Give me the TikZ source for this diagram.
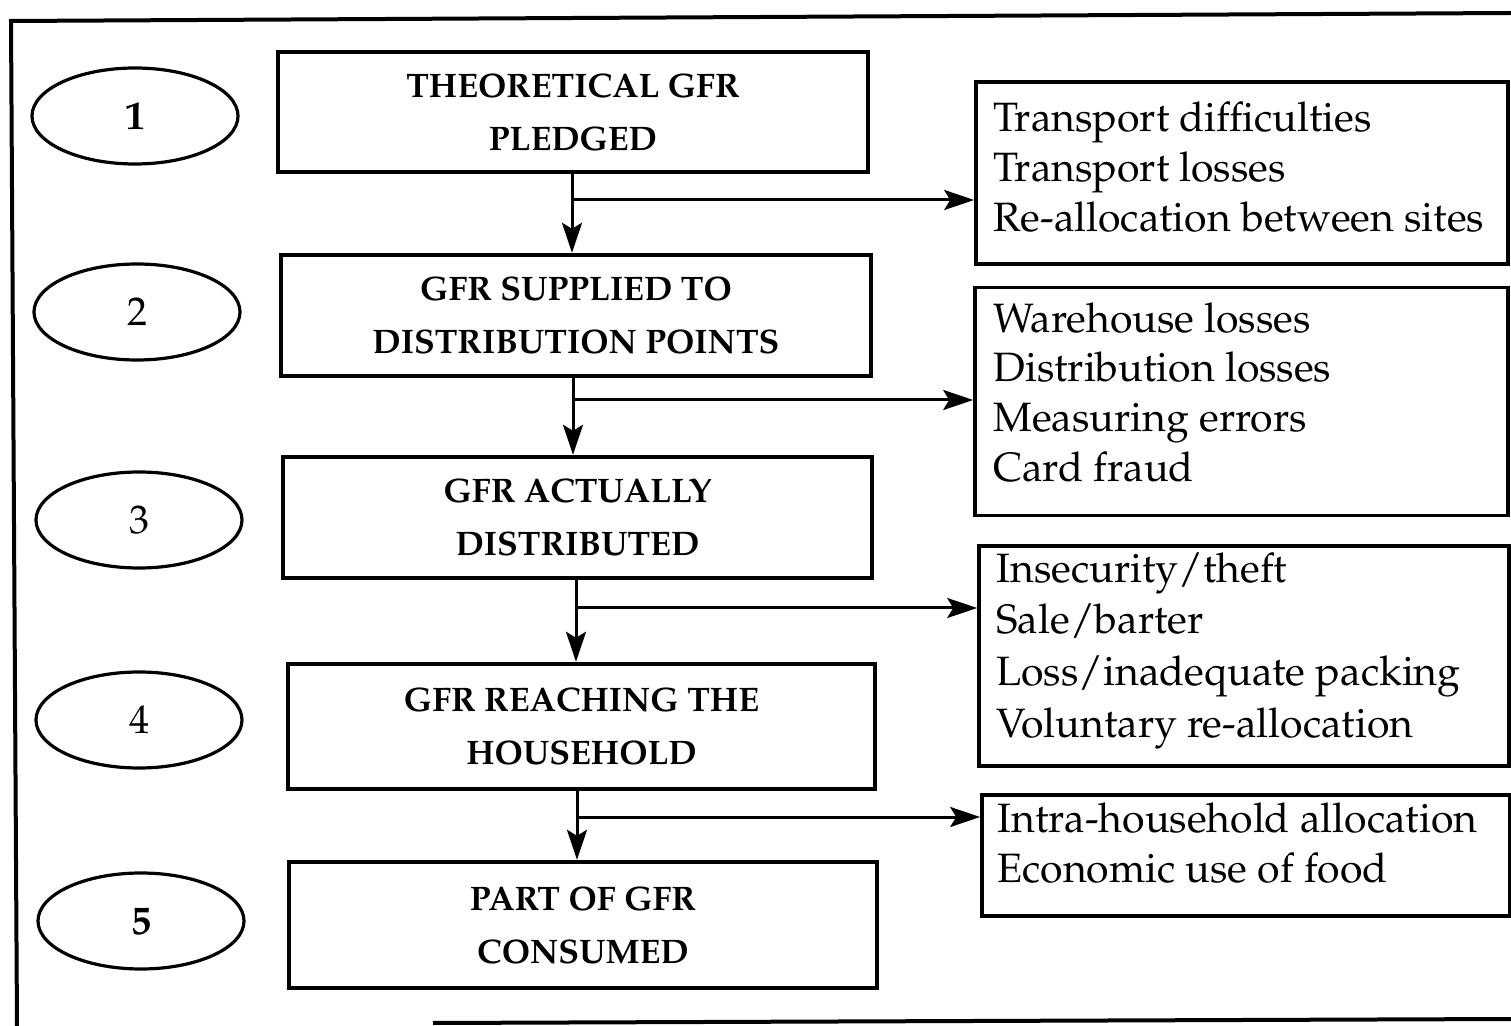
\documentclass[tikz,border=0pt]{standalone}
\usepackage[T1]{fontenc}
\usepackage{mathpazo}
\usetikzlibrary{shapes.geometric,arrows.meta}
\tikzset{
  frame/.style={line width=2pt},
  stage/.style={draw,line width=2.2pt,rectangle,inner sep=0pt,align=center,
    font=\fontsize{17}{26.5}\selectfont\bfseries},
  numoval/.style={draw,line width=1.6pt,ellipse,inner sep=0pt,
    minimum width=103pt,minimum height=48pt,font=\fontsize{20}{24}\selectfont},
  lossbox/.style={draw,line width=1.8pt,rectangle,inner sep=0pt},
  losstxt/.style={anchor=base west,inner sep=0pt,font=\fontsize{20.5}{25}\selectfont},
  arr/.style={line width=1.5pt,-{Stealth[length=15pt,width=10pt,inset=3pt]}}
}
\begin{document}
\begin{tikzpicture}[x=0.5pt,y=-0.5pt]
\useasboundingbox (0,0) rectangle (1511,1026);
% outer frame
\coordinate (ftl) at (11,21);
\coordinate (ftr) at (1511,13);
\coordinate (fbl) at (17,1026);
\coordinate (fbm) at (433,1023);
\coordinate (fbr) at (1511,1019);
\draw[frame] (ftr) -- (ftl) -- (fbl);
\draw[frame] (fbm) -- (fbr);
% ovals
\node[numoval] (e1) at (135,116) {\bfseries 1};
\node[numoval] (e2) at (137,312) {2};
\node[numoval] (e3) at (139,520) {3};
\node[numoval] (e4) at (139,720) {4};
\node[numoval] (e5) at (141,921) {\bfseries 5};
% stage boxes
\node[stage,minimum width=295pt,minimum height=60pt] (b1) at (573,112) {THEORETICAL GFR\\PLEDGED};
\node[stage,minimum width=295pt,minimum height=60.5pt] (b2) at (576,315.5) {GFR SUPPLIED TO\\DISTRIBUTION POINTS};
\node[stage,minimum width=294.5pt,minimum height=60.5pt] (b3) at (577.5,517.5) {GFR ACTUALLY\\DISTRIBUTED};
\node[stage,minimum width=293.5pt,minimum height=62.5pt] (b4) at (581.5,726.5) {GFR REACHING THE\\HOUSEHOLD};
\node[stage,minimum width=294pt,minimum height=63pt] (b5) at (583,925) {PART OF GFR\\CONSUMED};
% loss boxes
\node[lossbox,minimum width=266pt,minimum height=91pt] (r1) at (1242,173) {};
\node[lossbox,minimum width=266.5pt,minimum height=114pt] (r2) at (1241.5,401.5) {};
\node[lossbox,minimum width=265pt,minimum height=110pt] (r3) at (1244,656) {};
\node[lossbox,minimum width=264pt,minimum height=60.5pt] (r4) at (1246,855.5) {};
% loss texts
\node[losstxt] (t11) at (993,132) {Transport difficulties};
\node[losstxt] (t12) at (993,182) {Transport losses};
\node[losstxt] (t13) at (993,232) {Re-allocation between sites};
\node[losstxt] (t21) at (993,333) {Warehouse losses};
\node[losstxt] (t22) at (993,382) {Distribution losses};
\node[losstxt] (t23) at (993,432) {Measuring errors};
\node[losstxt] (t24) at (993,482) {Card fraud};
\node[losstxt] (t31) at (996,582) {Insecurity/theft};
\node[losstxt] (t32) at (996,633) {Sale/barter};
\node[losstxt] (t33) at (996,685) {Loss/inadequate packing};
\node[losstxt] (t34) at (996,737) {Voluntary re-allocation};
\node[losstxt] (t41) at (997,832) {Intra-household allocation};
\node[losstxt] (t42) at (997,882) {Economic use of food};
% junctions
\coordinate (j1) at (572,200);
\coordinate (j2) at (573,400);
\coordinate (j3) at (576,608);
\coordinate (j4) at (577,817);
% vertical arrows
\draw[arr] (j1 |- b1.south) -- (j1 |- b2.north);
\draw[arr] (j2 |- b2.south) -- (j2 |- b3.north);
\draw[arr] (j3 |- b3.south) -- (j3 |- b4.north);
\draw[arr] (j4 |- b4.south) -- (j4 |- b5.north);
% side arrows
\draw[arr] (j1) -- (j1 -| r1.west);
\draw[arr] (j2) -- (j2 -| r2.west);
\draw[arr] (j3) -- (j3 -| r3.west);
\draw[arr] (j4) -- (j4 -| r4.west);
\end{tikzpicture}
\end{document}
